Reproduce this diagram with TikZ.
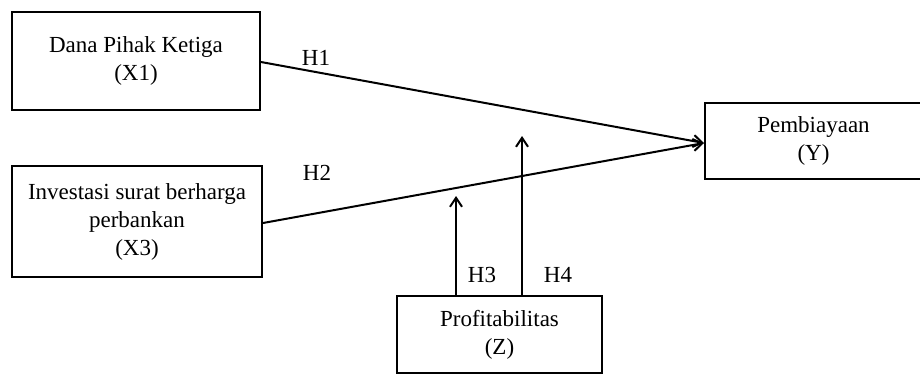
\documentclass[tikz,border=0pt]{standalone}
\usepackage{fontspec}
\setmainfont{Liberation Serif}
\usetikzlibrary{arrows.meta}
\begin{document}
\begin{tikzpicture}[x=1pt,y=-1pt,
  box/.style={draw,line width=2pt,align=center,inner sep=0pt,
    font=\fontsize{23}{28}\selectfont},
  lbl/.style={font=\fontsize{23}{28}\selectfont,inner sep=0pt},
  conn/.style={line width=2pt,-{Straight Barb[length=9pt,width=12pt,line width=2pt]}}]
\useasboundingbox (0,0) rectangle (920,376);
\node[box,minimum width=248pt,minimum height=98pt] (x1) at (136,61) {Dana Pihak Ketiga\\(X1)};
\node[box,minimum width=250pt,minimum height=111pt] (x3) at (137,221.5) {Investasi surat berharga\\perbankan\\(X3)};
\node[box,minimum width=217pt,minimum height=76pt,text width=207pt] (y) at (813.5,141) {Pembiayaan\\(Y)};
\node[box,minimum width=205pt,minimum height=77pt] (z) at (499.5,334.5) {Profitabilitas\\(Z)};
\coordinate (t3) at (456,196);
\coordinate (t4) at (522,136);
\draw[conn] (x1.east |- 0,62) -- (y.west |- 0,143);
\draw[conn] (x3.east |- 0,223) -- (y.west |- 0,143);
\draw[conn] (z.north -| t3) -- (t3);
\draw[conn] (z.north -| t4) -- (t4);
\node[lbl] (h1) at (316,58) {H1};
\node[lbl] (h2) at (317,173) {H2};
\node[lbl] (h3) at (482,275) {H3};
\node[lbl] (h4) at (558,275) {H4};
\end{tikzpicture}
\end{document}
